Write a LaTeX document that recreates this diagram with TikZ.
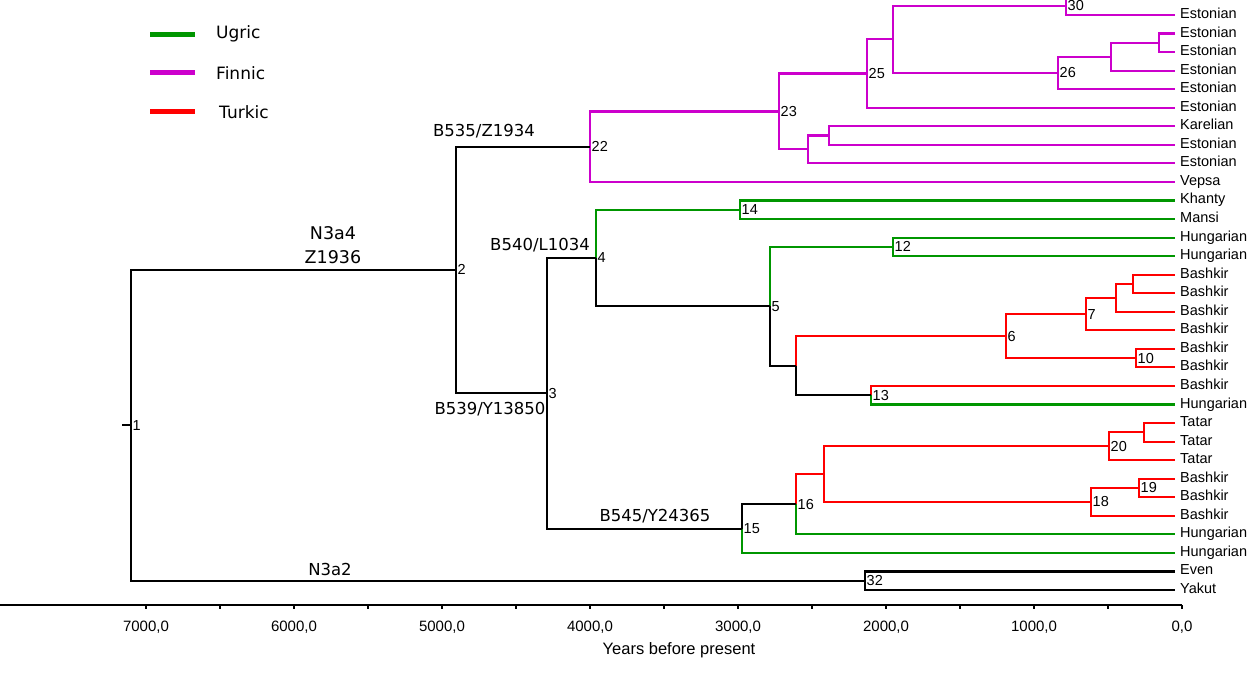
\documentclass[tikz,border=0pt]{standalone}
\usepackage{fontspec}
\setmainfont{Liberation Sans}
\newfontfamily\cladefont{DejaVu Sans}
\usepackage{xcolor}

\definecolor{ugric}{RGB}{0,150,0}
\definecolor{finnic}{RGB}{204,0,204}
\definecolor{turkic}{RGB}{255,0,0}

\tikzset{
  br/.style={line width=2.1pt, black},
  ug/.style={br, draw=ugric},
  fi/.style={br, draw=finnic},
  tu/.style={br, draw=turkic},
  leaf/.style={anchor=west, inner xsep=5pt, inner ysep=0pt, text height=10pt, text depth=3pt,
    font=\fontsize{14.5}{16}\selectfont},
  num/.style={anchor=west, inner xsep=1.5pt, inner ysep=0pt, text height=10pt, text depth=0pt,
    font=\fontsize{14.5}{16}\selectfont},
  clade/.style={inner sep=1pt, font=\cladefont\fontsize{16.5}{19}\selectfont},
  bigclade/.style={inner sep=1pt, align=center, font=\cladefont\fontsize{17.5}{24}\selectfont},
  legline/.style={line width=5pt},
  legtext/.style={anchor=west, inner sep=0pt, font=\cladefont\fontsize{17}{19}\selectfont},
  ticklab/.style={font=\fontsize{15}{17}\selectfont},
}

\begin{document}
\begin{tikzpicture}[x=1pt, y=-1pt]
  \useasboundingbox (0,0) rectangle (1249,675);
  \clip (0,0) rectangle (1249,675);

  % Legend
  \draw[legline, ugric] (150,34) -- (195,34);
  \node[legtext] (lgUgric) at (216,34) {Ugric};
  \draw[legline, finnic] (150,72) -- (195,72);
  \node[legtext] (lgFinnic) at (216,73) {Finnic};
  \draw[legline, turkic] (150,111) -- (195,111);
  \node[legtext] (lgTurkic) at (219,112) {Turkic};

  % Tree, y in leaf rows
  \begin{scope}[y=-18.55pt, yshift=3.6pt]
    % leaves
    \foreach \i/\name in {0/Estonian,1/Estonian,2/Estonian,3/Estonian,4/Estonian,
        5/Estonian,6/Estonian,7/Karelian,8/Estonian,9/Estonian,10/Vepsa,
        11/Khanty,12/Mansi,13/Hungarian,14/Hungarian,15/Bashkir,16/Bashkir,
        17/Bashkir,18/Bashkir,19/Bashkir,20/Bashkir,21/Bashkir,22/Hungarian,
        23/Tatar,24/Tatar,25/Tatar,26/Bashkir,27/Bashkir,28/Bashkir,
        29/Hungarian,30/Hungarian,31/Even,32/Yakut}
      \node[leaf] (l\i) at (1175,\i) {\name};

    % internal nodes
    \coordinate (root) at (122,23.124);
    \coordinate (n1) at (131,23.124);
    \coordinate (n2) at (456,14.748);
    \coordinate (n3) at (547,21.395);
    \coordinate (n4) at (596,14.102);
    \coordinate (n5) at (770,16.703);
    \coordinate (nh) at (796,19.906);
    \coordinate (n6) at (1006,18.3125);
    \coordinate (n7) at (1086,17.125);
    \coordinate (ng) at (1116,16.25);
    \coordinate (nf) at (1133,15.5);
    \coordinate (n10) at (1136,19.5);
    \coordinate (n12) at (893,13.5);
    \coordinate (n13) at (871,21.5);
    \coordinate (n14) at (740,11.5);
    \coordinate (n15) at (742,28.6875);
    \coordinate (n16) at (796,27.375);
    \coordinate (nj) at (824,25.75);
    \coordinate (n18) at (1091,27.25);
    \coordinate (n19) at (1139,26.5);
    \coordinate (n20) at (1109,24.25);
    \coordinate (ni) at (1144,23.5);
    \coordinate (n22) at (590,8.1016);
    \coordinate (n23) at (779,6.203);
    \coordinate (ne) at (808,8.25);
    \coordinate (nd) at (829,7.5);
    \coordinate (n25) at (867,4.15625);
    \coordinate (nc) at (893,2.3125);
    \coordinate (n26) at (1058,4.125);
    \coordinate (nb) at (1111,3.25);
    \coordinate (na) at (1159,2.5);
    \coordinate (n30) at (1066,0.5);
    \coordinate (n32) at (865,31.5);

    % Finnic branches
    \draw[fi] (n30) |- (l0.west);
    \draw[fi] (n30) |- (l1.west);
    \draw[fi] (na) |- (l2.west);
    \draw[fi] (na) |- (l3.west);
    \draw[fi] (nb) |- (na);
    \draw[fi] (nb) |- (l4.west);
    \draw[fi] (n26) |- (nb);
    \draw[fi] (n26) |- (l5.west);
    \draw[fi] (nc) |- (n30);
    \draw[fi] (nc) |- (n26);
    \draw[fi] (n25) |- (nc);
    \draw[fi] (n25) |- (l6.west);
    \draw[fi] (nd) |- (l7.west);
    \draw[fi] (nd) |- (l8.west);
    \draw[fi] (ne) |- (nd);
    \draw[fi] (ne) |- (l9.west);
    \draw[fi] (n23) |- (n25);
    \draw[fi] (n23) |- (ne);
    \draw[fi] (n22) |- (n23);
    \draw[fi] (n22) |- (l10.west);

    % Ugric and Turkic branches
    \draw[ug] (n14) |- (l11.west);
    \draw[ug] (n14) |- (l12.west);
    \draw[ug] (n4) |- (n14);
    \draw[ug] (n12) |- (l13.west);
    \draw[ug] (n12) |- (l14.west);
    \draw[ug] (n5) |- (n12);
    \draw[tu] (nf) |- (l15.west);
    \draw[tu] (nf) |- (l16.west);
    \draw[tu] (ng) |- (nf);
    \draw[tu] (ng) |- (l17.west);
    \draw[tu] (n7) |- (ng);
    \draw[tu] (n7) |- (l18.west);
    \draw[tu] (n10) |- (l19.west);
    \draw[tu] (n10) |- (l20.west);
    \draw[tu] (n6) |- (n7);
    \draw[tu] (n6) |- (n10);
    \draw[tu] (nh) |- (n6);
    \draw[tu] (n13) |- (l21.west);
    \draw[ug] (n13) |- (l22.west);
    \draw[br] (nh) |- (n13);
    \draw[br] (n5) |- (nh);
    \draw[br] (n4) |- (n5);

    \draw[tu] (ni) |- (l23.west);
    \draw[tu] (ni) |- (l24.west);
    \draw[tu] (n20) |- (ni);
    \draw[tu] (n20) |- (l25.west);
    \draw[tu] (n19) |- (l26.west);
    \draw[tu] (n19) |- (l27.west);
    \draw[tu] (n18) |- (n19);
    \draw[tu] (n18) |- (l28.west);
    \draw[tu] (nj) |- (n20);
    \draw[tu] (nj) |- (n18);
    \draw[tu] (n16) |- (nj);
    \draw[ug] (n16) |- (l29.west);
    \draw[br] (n15) |- (n16);
    \draw[ug] (n15) |- (l30.west);

    % black backbone
    \draw[br] (n3) |- (n4);
    \draw[br] (n3) |- (n15);
    \draw[br] (n2) |- (n22);
    \draw[br] (n2) |- (n3);
    \draw[br] (n32) |- (l31.west);
    \draw[br] (n32) |- (l32.west);
    \draw[br] (n1) |- (n2);
    \draw[br] (n1) |- (n32);
    \draw[br] (root) -- (n1);

    % node numbers
    \foreach \n in {1,2,3,4,5,6,7,10,12,13,14,15,16,18,19,20,22,23,25,26,30,32}
      \node[num] (t\n) at (n\n) {\n};
  \end{scope}

  % clade labels
  \node[bigclade] (cN3a4) at (333,245) {N3a4\\Z1936};
  \node[clade] (cB535) at (484,131) {B535/Z1934};
  \node[clade] (cB540) at (540,245) {B540/L1034};
  \node[clade] (cB539) at (490,409) {B539/Y13850};
  \node[clade] (cB545) at (655,516) {B545/Y24365};
  \node[clade] (cN3a2) at (330,569) {N3a2};

  % time axis
  \draw[line width=1.8pt] (0,605) -- (1182,605);
  \foreach \t in {0,500,...,7000}
    \draw[line width=1.2pt] ({1182-0.148*\t},605) -- ++(0,4);
  \foreach \k in {0,...,7}
    \node[ticklab] (tk\k) at ({1182-148*\k},627) {\ifnum\k=0 0\else\k000\fi,0};
  \node[font=\fontsize{16.5}{19}\selectfont] (xlabel) at (679,650) {Years before present};
\end{tikzpicture}
\end{document}
